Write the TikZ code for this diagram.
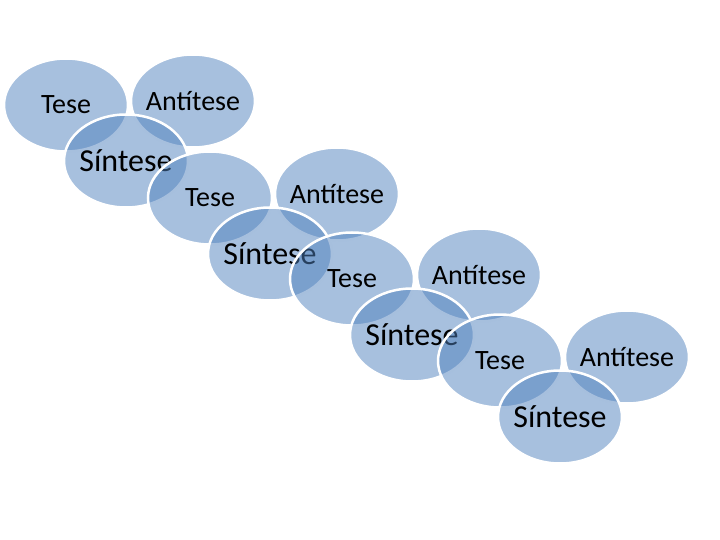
\documentclass[tikz,border=0pt]{standalone}
\usepackage{fontspec}
\setmainfont{Carlito}
\usetikzlibrary{shapes.geometric}
\definecolor{azulbolha}{RGB}{79,129,189}
\newcommand{\rotulo}[1]{\makebox[0pt]{#1}}

\tikzset{
	bolha/.style={ellipse, draw=white, line width=2.5pt, fill=azulbolha,
		fill opacity=0.5, draw opacity=1, text opacity=1, text=black,
		minimum width=124pt, minimum height=93pt, inner sep=0pt},
	tese/.style={bolha, font=\fontsize{28}{30}\selectfont},
	sintese/.style={bolha, font=\fontsize{32}{34}\selectfont}
}

\begin{document}
\begin{tikzpicture}[x=1pt, y=-1pt]
	%%%%% START %%%%%
	
	\useasboundingbox (0, 0) rectangle (720, 540);
	
	\foreach \i/\x/\y in {1/66/105, 2/210/198, 3/352/279, 4/500/361}{
		\node[tese] (tese\i) at (\x, \y) {\rotulo{Tese}};
		\node[tese] (antitese\i) at (\x+127, \y-4) {\rotulo{Antítese}};
		\node[sintese] (sintese\i) at (\x+60, \y+56) {\rotulo{Síntese}};
	}
	
	%%%%% END %%%%%
\end{tikzpicture}
\end{document}
